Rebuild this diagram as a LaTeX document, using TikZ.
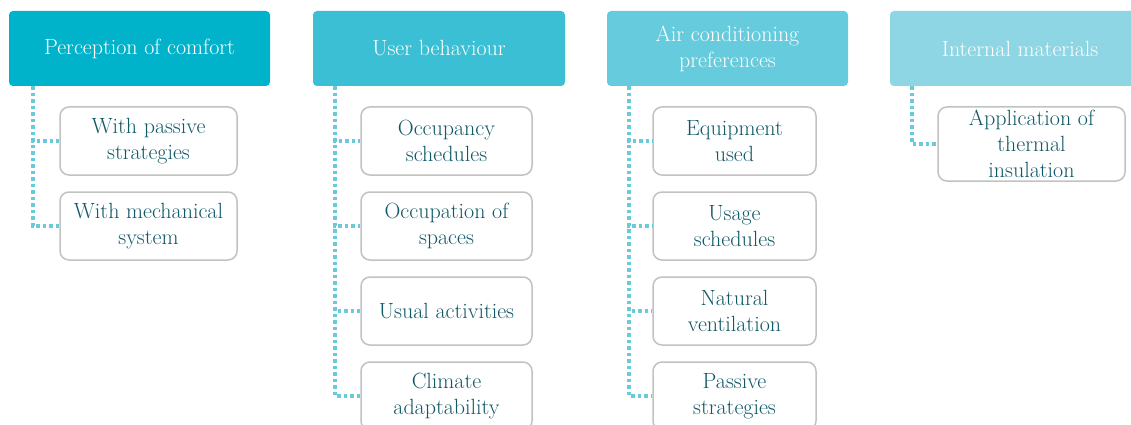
\documentclass[tikz,border=0pt]{standalone}
\usepackage{xcolor}
\definecolor{headA}{HTML}{00B3CA}
\definecolor{headB}{HTML}{3BBFD4}
\definecolor{headC}{HTML}{66CBDC}
\definecolor{headD}{HTML}{8ED6E3}
\definecolor{dotblue}{HTML}{6ACADB}
\definecolor{boxgray}{HTML}{C2C2C2}
\definecolor{itemtext}{HTML}{0F5866}
\tikzset{
  head/.style={rounded corners=4pt, minimum width=#1, minimum height=75pt,
    text=white, align=center, font=\fontsize{22}{26}\selectfont, inner sep=0pt},
  item/.style={draw=boxgray, line width=1.5pt, fill=white, rounded corners=9pt,
    minimum width=#1, minimum height=68pt, text=itemtext, align=center,
    font=\fontsize{22}{26}\selectfont, inner sep=0pt},
  link/.style={dotblue, line width=3.5pt, dash pattern=on 3.5pt off 3pt}
}
\begin{document}
\begin{tikzpicture}[x=1pt, y=-1pt]
    \clip (0,0) rectangle (1131,425);
    
    % Headers
    \node[head=261pt, fill=headA] (comfort) at (139.5,48.5) {Perception of comfort};
    \node[head=252pt, fill=headB] (behaviour) at (439,48.5) {User behaviour};
    \node[head=241pt, fill=headC] (aircon) at (727.5,48.5) {Air conditioning\\preferences};
    \node[head=260pt, fill=headD] (materials) at (1020,48.5) {Internal materials};
    
    % Perception of comfort
    \node[item=177pt] (passive) at (148.5,141) {With passive\\strategies};
    \node[item=177pt] (mechanical) at (148.5,226) {With mechanical\\system};
    \draw[link] ([xshift=24pt]comfort.south west) |- (passive.west);
    \draw[link] ([xshift=24pt]comfort.south west) |- (mechanical.west);
    
    % User behaviour
    \node[item=171pt] (occupancy) at (446.5,141) {Occupancy\\schedules};
    \node[item=171pt] (spaces) at (446.5,226) {Occupation of\\spaces};
    \node[item=171pt] (activities) at (446.5,311) {Usual activities};
    \node[item=171pt] (climate) at (446.5,396) {Climate\\adaptability};
    \foreach \n in {occupancy,spaces,activities,climate}
        \draw[link] ([xshift=22pt]behaviour.south west) |- (\n.west);
    
    % Air conditioning preferences
    \node[item=163pt] (equipment) at (734.5,141) {Equipment\\used};
    \node[item=163pt] (usage) at (734.5,226) {Usage\\schedules};
    \node[item=163pt] (natural) at (734.5,311) {Natural\\ventilation};
    \node[item=163pt] (strategies) at (734.5,396) {Passive\\strategies};
    \foreach \n in {equipment,usage,natural,strategies}
        \draw[link] ([xshift=22pt]aircon.south west) |- (\n.west);
    
    % Internal materials
    \node[item=187pt, minimum height=74pt] (insulation) at (1031.5,144) {Application of\\thermal\\insulation};
    \draw[link] ([xshift=22pt]materials.south west) |- (insulation.west);
\end{tikzpicture}
\end{document}
